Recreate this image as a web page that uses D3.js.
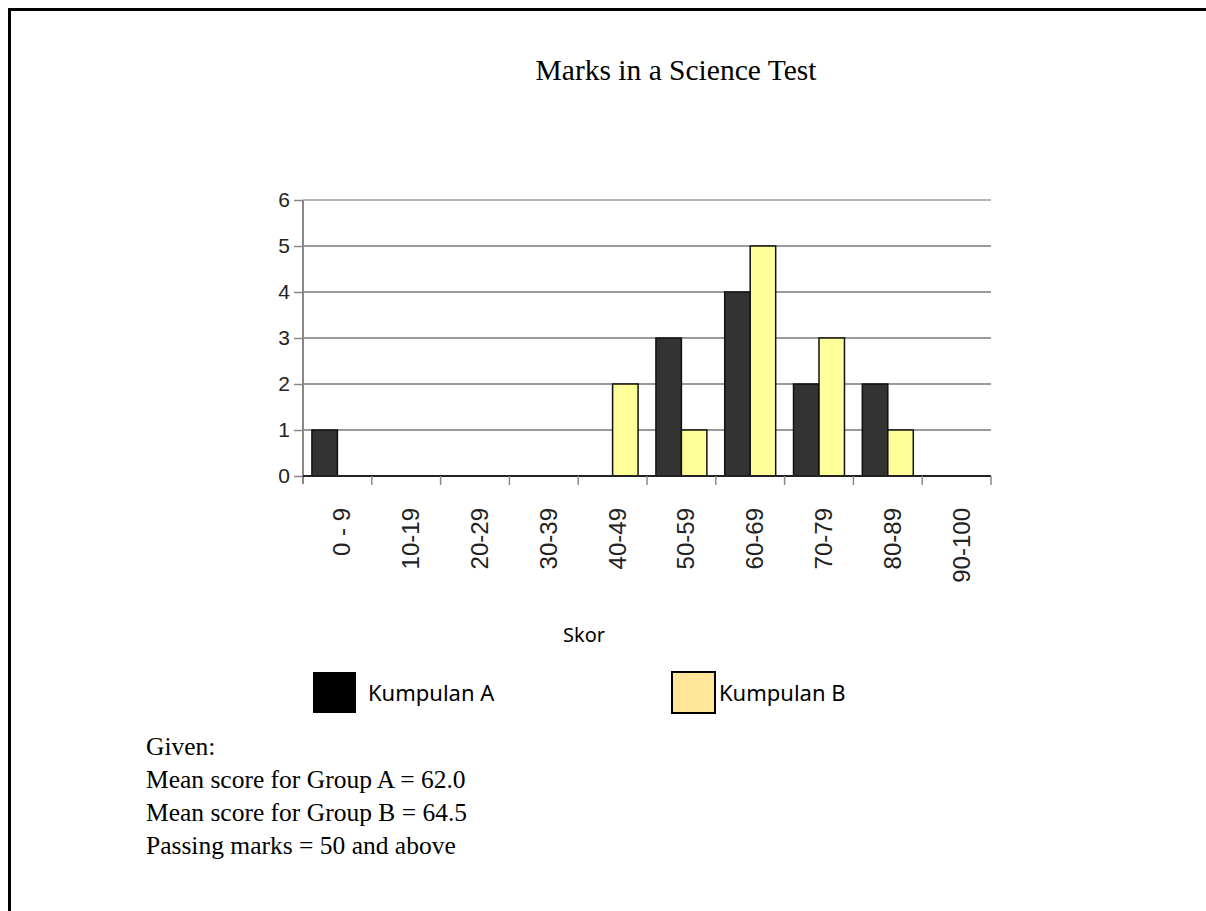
<!DOCTYPE html>
<html>
<head>
<meta charset="utf-8">
<script src="https://cdn.jsdelivr.net/npm/d3@7"></script>
<style>
  html, body { margin: 0; padding: 0; background: #fff; overflow: hidden; }
</style>
</head>
<body>
<div id="chart"></div>
<script>
'use strict';

var categories = ["0 - 9", "10-19", "20-29", "30-39", "40-49", "50-59", "60-69", "70-79", "80-89", "90-100"];
var groupA = [1, 0, 0, 0, 0, 3, 4, 2, 2, 0];
var groupB = [0, 0, 0, 0, 2, 1, 5, 3, 1, 0];
var seriesNames = ["Kumpulan A", "Kumpulan B"];
var yTicks = [0, 1, 2, 3, 4, 5, 6];
var notes = ["Given:", "Mean score for Group A = 62.0", "Mean score for Group B = 64.5", "Passing marks = 50 and above"];

var WIDTH = 1206,
    HEIGHT = 911,
    PLOT = { LEFT: 303, RIGHT: 991, TOP: 200, BOTTOM: 476 },
    COLORS = { A: "#333333", B: "#ffff99", LEGEND_B: "#ffe699" },
    SERIF = "'Liberation Serif', 'Times New Roman', serif",
    SANS = "'Liberation Sans', Arial, sans-serif",
    LABEL_FONT = "'Noto Sans', 'Open Sans', sans-serif";

var svg = d3.select("#chart").append("svg")
    .attr("width", WIDTH)
    .attr("height", HEIGHT);

svg.append("rect")
    .attr("width", WIDTH).attr("height", HEIGHT)
    .attr("fill", "#fff");

// page frame (runs off right and bottom)
svg.append("rect")
    .attr("x", 9.5).attr("y", 9.5)
    .attr("width", WIDTH + 50).attr("height", HEIGHT + 50)
    .attr("fill", "none")
    .attr("stroke", "#000")
    .attr("stroke-width", 3);

svg.append("text")
    .attr("x", 676).attr("y", 80)
    .attr("text-anchor", "middle")
    .style("font-family", SERIF)
    .style("font-size", "29.5px")
    .attr("fill", "#000")
    .text("Marks in a Science Test");

var x = d3.scaleBand()
    .domain(categories)
    .range([PLOT.LEFT, PLOT.RIGHT])
    .paddingInner(0)
    .paddingOuter(0);

var inner = d3.scaleBand()
    .domain(seriesNames)
    .range([0, x.bandwidth()])
    .paddingOuter(0.35)
    .paddingInner(0);

var y = d3.scaleLinear()
    .domain([0, 6])
    .range([PLOT.BOTTOM, PLOT.TOP]);

// gridlines
svg.append("g")
    .selectAll("line")
    .data(yTicks.filter(function (d) { return d > 0; }))
    .join("line")
    .attr("x1", PLOT.LEFT).attr("x2", PLOT.RIGHT)
    .attr("y1", function (d) { return y(d); })
    .attr("y2", function (d) { return y(d); })
    .attr("stroke", function (d) { return d === 6 ? "#b4b4b4" : "#9a9a9a"; })
    .attr("stroke-width", 2);

// y axis
var yAxis = svg.append("g")
    .attr("transform", "translate(" + PLOT.LEFT + ",0)")
    .call(d3.axisLeft(y).tickValues(yTicks).tickSize(9).tickPadding(4).tickFormat(d3.format("d")));
yAxis.select(".domain").remove();
yAxis.selectAll(".tick line").attr("stroke", "#888").attr("stroke-width", 1.5);
yAxis.selectAll(".tick text")
    .style("font-family", SANS)
    .style("font-size", "21px")
    .attr("fill", "#222");
svg.append("line")
    .attr("x1", PLOT.LEFT).attr("x2", PLOT.LEFT)
    .attr("y1", PLOT.TOP).attr("y2", PLOT.BOTTOM + 8)
    .attr("stroke", "#888").attr("stroke-width", 2);

// bars
var groups = svg.append("g")
    .selectAll("g")
    .data(categories)
    .join("g")
    .attr("transform", function (d) { return "translate(" + x(d) + ",0)"; });

groups.selectAll("rect")
    .data(function (d, i) {
        return [{ key: seriesNames[0], value: groupA[i] }, { key: seriesNames[1], value: groupB[i] }];
    })
    .join("rect")
    .filter(function (d) { return d.value > 0; })
    .attr("x", function (d) { return inner(d.key); })
    .attr("width", inner.bandwidth())
    .attr("y", function (d) { return y(d.value); })
    .attr("height", function (d) { return y(0) - y(d.value); })
    .attr("fill", function (d) { return d.key === seriesNames[0] ? COLORS.A : COLORS.B; })
    .attr("stroke", "#111")
    .attr("stroke-width", 1.5);

// x axis
svg.append("line")
    .attr("x1", PLOT.LEFT).attr("x2", PLOT.RIGHT)
    .attr("y1", y(0)).attr("y2", y(0))
    .attr("stroke", "#222").attr("stroke-width", 2);

svg.append("g")
    .selectAll("line")
    .data(categories.slice(1).concat(["end"]))
    .join("line")
    .attr("x1", function (d, i) { return i < categories.length - 1 ? x(d) : PLOT.RIGHT; })
    .attr("x2", function (d, i) { return i < categories.length - 1 ? x(d) : PLOT.RIGHT; })
    .attr("y1", y(0)).attr("y2", y(0) + 9)
    .attr("stroke", "#888").attr("stroke-width", 1.5);

svg.append("g")
    .selectAll("text")
    .data(categories)
    .join("text")
    .attr("transform", function (d) {
        return "translate(" + (x(d) + x.bandwidth() / 2 + 13) + "," + (y(0) + 32) + ") rotate(-90)";
    })
    .attr("text-anchor", "end")
    .style("font-family", SANS)
    .style("font-size", "24px")
    .attr("fill", "#222")
    .text(function (d) { return d; });

svg.append("text")
    .attr("x", 584).attr("y", 642)
    .attr("text-anchor", "middle")
    .style("font-family", LABEL_FONT)
    .style("font-size", "20px")
    .attr("fill", "#000")
    .text("Skor");

// legend
var legend = svg.append("g")
    .selectAll("g")
    .data(seriesNames)
    .join("g")
    .attr("transform", function (d, i) { return "translate(" + (i === 0 ? 313 : 672) + ",672)"; });

legend.append("rect")
    .attr("width", 43).attr("height", 41)
    .attr("fill", function (d, i) { return i === 0 ? "#000" : COLORS.LEGEND_B; })
    .attr("stroke", "#000")
    .attr("stroke-width", function (d, i) { return i === 0 ? 0 : 2; });

legend.append("text")
    .attr("x", function (d, i) { return i === 0 ? 55 : 47; })
    .attr("y", 29)
    .style("font-family", LABEL_FONT)
    .style("font-size", "22px")
    .attr("fill", "#000")
    .text(function (d) { return d; });

// notes
svg.append("g")
    .selectAll("text")
    .data(notes)
    .join("text")
    .attr("x", 146)
    .attr("y", function (d, i) { return 755 + i * 33; })
    .style("font-family", SERIF)
    .style("font-size", "25.5px")
    .attr("fill", "#000")
    .text(function (d) { return d; });
</script>
</body>
</html>
